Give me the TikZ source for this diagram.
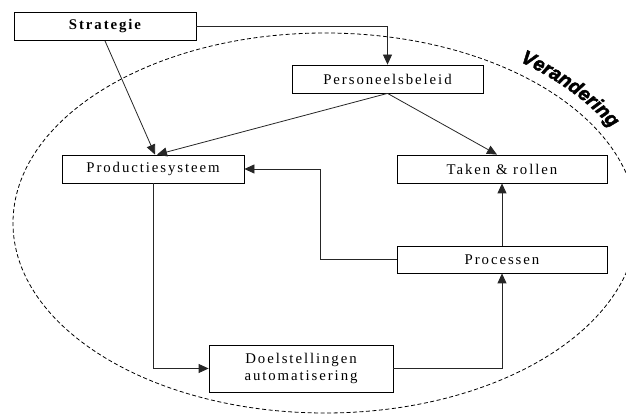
\documentclass[tikz,border=0pt]{standalone}
\usepackage{fontspec}
\setmainfont{Liberation Serif}[LetterSpace=13]
\setsansfont{Liberation Sans}
\newfontfamily\verfont{Liberation Sans}[BoldItalicFeatures={FakeBold=2.5}]
\usetikzlibrary{arrows.meta,decorations.text}
\begin{document}
\begin{tikzpicture}[x=1pt,y=1pt,
  box/.style={draw=black, line width=0.8pt, minimum height=28pt, inner sep=0pt,
    font=\fontsize{14.8}{17}\selectfont, align=center},
  conn/.style={draw=black!85, line width=0.8pt, -{Triangle[length=10pt,width=9pt]}},
  border/.style={draw=black, line width=0.8pt, dash pattern=on 4pt off 2.5pt}
]
\useasboundingbox (0,0) rectangle (626,414);
\begin{scope}
  \clip (0,0) rectangle (626,414);
  \draw[border] (325,191) ellipse [x radius=312, y radius=190];
\end{scope}
\path[decorate, decoration={text along path, text align=left,
   text={|\verfont\bfseries\itshape\fontsize{19.5}{19.5}\selectfont|Verandering}}]
   (325,191) ++(53:324 and 202) arc[start angle=53, end angle=5, x radius=324, y radius=202];

\node[box, minimum width=182pt, font=\fontsize{14.8}{17}\selectfont\bfseries] (strat) at (105,387.5) {Strategie};
\node[box, minimum width=191pt] (pers) at (387.5,335) {Personeelsbeleid};
\node[box, minimum width=182pt] (prod) at (153,245) {Productiesysteem};
\node[box, minimum width=210pt] (taken) at (502,245) {Taken \& rollen};
\node[box, minimum width=210pt, minimum height=27pt] (proc) at (502,154.5) {Processen};
\node[box, minimum width=184pt, minimum height=47pt] (doel) at (301,45.5) {Doelstellingen\\automatisering};

\coordinate (c1) at (320,154.5);
\coordinate (c2) at (320,245);

\draw[conn] (strat.east) -| (pers.north);
\draw[conn] (strat.south) -- ([xshift=2pt]prod.north);
\draw[conn] (pers.south) -- ([xshift=4pt]prod.north);
\draw[conn] (pers.south) -- ([xshift=-5pt]taken.north);
\draw[conn] (proc.north) -- (taken.south);
\draw[conn] (proc.west) -- (c1) -- (c2) -- (prod.east);
\draw[conn] (prod.south) |- (doel.west);
\draw[conn] (doel.east) -| (proc.south);
\end{tikzpicture}
\end{document}
